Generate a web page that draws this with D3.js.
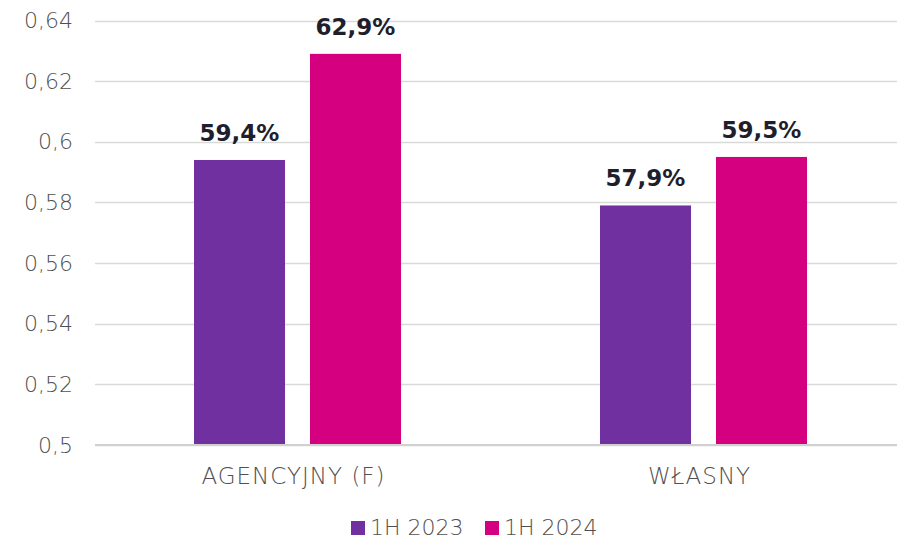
<!DOCTYPE html>
<html>
<head>
<meta charset="utf-8">
<script src="https://cdn.jsdelivr.net/npm/d3@7"></script>
<style>
  body { margin: 0; background: #fff; }
  svg { display: block; font-family: "DejaVu Sans", sans-serif; }
</style>
</head>
<body>
<div id="chart"></div>
<script>
// dane
const categories = ["AGENCYJNY (F)", "WŁASNY"];
const seriesNames = ["1H 2023", "1H 2024"];
const values2023 = [0.594, 0.579];
const values2024 = [0.629, 0.595];
const valueLabels2023 = ["59,4%", "57,9%"];
const valueLabels2024 = ["62,9%", "59,5%"];
const yTicks = [0.5, 0.52, 0.54, 0.56, 0.58, 0.6, 0.62, 0.64];
const colors = ["#7030A0", "#D5007F"];

const width = 897;
const height = 539;

const svg = d3.select("#chart")
    .append("svg")
    .attr("width", width)
    .attr("height", height);

// skale
const y = d3.scaleLinear()
    .domain([0.5, 0.64])
    .range([445, 20.5]);

const x0 = d3.scaleBand()
    .domain(categories)
    .range([94.5, 906.5]);

const x1 = d3.scaleBand()
    .domain(seriesNames)
    .range([0, 207])
    .paddingInner(25 / 116);

// siatka
svg.append("g")
    .selectAll("line")
    .data(yTicks)
    .enter()
    .append("line")
    .attr("x1", 95)
    .attr("x2", width)
    .attr("y1", d => Math.round(y(d)) + 0.5)
    .attr("y2", d => Math.round(y(d)) + 0.5)
    .style("stroke", "#d9d9d9")
    .style("stroke-width", 1.5);

// oś Y
const fmt = d => String(+d.toFixed(2)).replace(".", ",");
const yAxis = d3.axisLeft(y)
    .tickValues(yTicks)
    .tickSize(0)
    .tickPadding(0)
    .tickFormat(fmt);

svg.append("g")
    .attr("transform", "translate(73,0)")
    .call(yAxis)
    .call(g => g.select(".domain").remove())
    .selectAll("text")
    .style("font-family", "DejaVu Sans, sans-serif")
    .style("font-size", "22px")
    .style("font-weight", 300)
    .style("fill", "#505050");

// słupki
const rows = categories.map((c, i) => ({
    cat: c,
    vals: [
        { s: seriesNames[0], v: values2023[i], label: valueLabels2023[i], color: colors[0] },
        { s: seriesNames[1], v: values2024[i], label: valueLabels2024[i], color: colors[1] }
    ]
}));

const groups = svg.append("g")
    .selectAll("g")
    .data(rows)
    .enter()
    .append("g")
    .attr("transform", d => `translate(${x0(d.cat) + x0.bandwidth() / 2 - 103.5},0)`);

groups.selectAll("rect")
    .data(d => d.vals)
    .enter()
    .append("rect")
    .attr("x", d => x1(d.s))
    .attr("width", x1.bandwidth())
    .attr("y", d => y(d.v))
    .attr("height", d => y(0.5) - y(d.v))
    .style("fill", d => d.color);

groups.selectAll("text")
    .data(d => d.vals)
    .enter()
    .append("text")
    .attr("x", d => x1(d.s) + x1.bandwidth() / 2)
    .attr("y", d => y(d.v) - 19)
    .style("text-anchor", "middle")
    .style("font-size", "23px")
    .style("font-weight", "bold")
    .style("fill", "#1e1e2d")
    .text(d => d.label);

// oś X
const xAxis = d3.axisBottom(x0).tickSize(0).tickPadding(0);
svg.append("g")
    .attr("transform", "translate(-4,484)")
    .call(xAxis)
    .call(g => g.select(".domain").remove())
    .selectAll("text")
    .attr("dy", 0)
    .style("font-family", "DejaVu Sans, sans-serif")
    .style("font-size", "23px")
    .style("font-weight", 300)
    .style("letter-spacing", "1px")
    .style("fill", "#505050");

// linia bazowa
svg.append("line")
    .attr("x1", 95)
    .attr("x2", width)
    .attr("y1", y(0.5))
    .attr("y2", y(0.5))
    .style("stroke", "#d0d0d0")
    .style("stroke-width", 2);

// legenda
const legendX = [351, 485];
const legend = svg.append("g");
seriesNames.forEach((s, i) => {
    legend.append("rect")
        .attr("x", legendX[i])
        .attr("y", 521)
        .attr("width", 14)
        .attr("height", 14)
        .style("fill", colors[i]);
    legend.append("text")
        .attr("x", legendX[i] + 19)
        .attr("y", 535)
        .style("font-size", "22px")
        .style("font-weight", 300)
        .style("fill", "#505050")
        .text(s);
});
</script>
</body>
</html>
